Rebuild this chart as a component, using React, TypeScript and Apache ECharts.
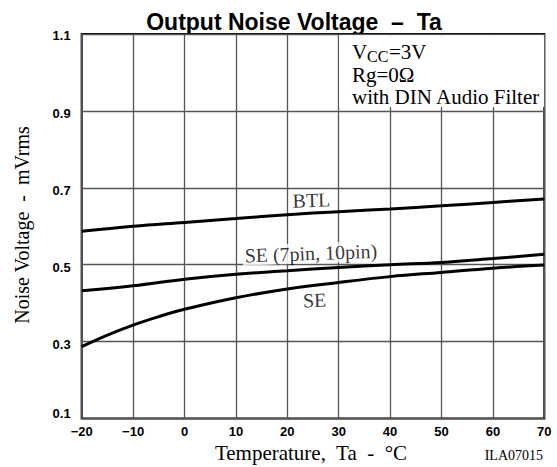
import React, { useEffect, useRef } from "react";
import * as echarts from "echarts";

const temps = [-20, -10, 0, 10, 20, 30, 40, 50, 60, 70];
const btlValues = [0.587, 0.6, 0.61, 0.62, 0.63, 0.638, 0.645, 0.653, 0.662, 0.671];
const se7Values = [0.432, 0.445, 0.462, 0.475, 0.484, 0.493, 0.5, 0.506, 0.516, 0.527];
const seTemps = [-20, -15, -10, -5, 0, 10, 20, 30, 40, 50, 60, 70];
const seValues = [0.287, 0.317, 0.343, 0.365, 0.384, 0.414, 0.437, 0.454, 0.469, 0.48, 0.491, 0.499];

const curveNames = ["BTL", "SE (7pin, 10pin)", "SE"];
const labelX = [24.7, 24.6, 25.3];
const labelY = [0.668, 0.53, 0.408];

const xTicks = [-20, -10, 0, 10, 20, 30, 40, 50, 60, 70];
const yTickLabels = ["0.1", "0.3", "0.5", "0.7", "0.9", "1.1"];

const SERIF = "'Liberation Serif', 'Times New Roman', serif";
const SANS = "'Liberation Sans', Arial, Helvetica, sans-serif";

export default function App() {
  const ref = useRef<HTMLDivElement>(null);
  useEffect(() => {
    if (!ref.current) return;
    const chart = echarts.init(ref.current, null, { renderer: "svg" });
    const pair = (xs: number[], ys: number[]) => xs.map((x, i) => [x, ys[i]]);
    const lineSeries = (name: string, data: number[][]) => ({
      name,
      type: "line",
      data,
      smooth: 0.4,
      symbol: "none",
      lineStyle: { color: "#000", width: 3 },
      z: 3,
    });
    const tickFont = { fontFamily: SANS, fontWeight: "bold", fontSize: 13, color: "#000" };
    chart.setOption({
      animation: false,
      grid: {
        left: 81.7,
        right: 12.7,
        top: 34,
        bottom: 48.5,
        show: true,
        borderColor: "#000",
        borderWidth: 2,
        backgroundColor: "transparent",
      },
      xAxis: {
        type: "value",
        min: xTicks[0],
        max: xTicks[xTicks.length - 1],
        interval: 10,
        axisLine: { show: false },
        axisTick: { show: false },
        splitLine: { show: true, lineStyle: { color: "#555", width: 1.3 } },
        axisLabel: {
          margin: 6,
          ...tickFont,
          formatter: (v: number) => (v < 0 ? "\u2212" + Math.abs(v) : String(v)),
        },
      },
      yAxis: {
        type: "value",
        min: 0.1,
        max: 1.1,
        interval: 0.1,
        axisLine: { show: false },
        axisTick: { show: false },
        splitLine: {
          show: true,
          lineStyle: { color: ["#555", "rgba(0,0,0,0)"], width: 1.3 },
        },
        axisLabel: {
          margin: 11,
          ...tickFont,
          formatter: (v: number) => {
            const s = v.toFixed(1);
            if (!yTickLabels.includes(s)) return "";
            if (s === yTickLabels[0]) return "{lo|" + s + "}";
            if (s === yTickLabels[yTickLabels.length - 1]) return "{hi|" + s + "}";
            return "{mid|" + s + "}";
          },
          rich: {
            lo: { ...tickFont, padding: [0, 0, 11, 0] },
            mid: { ...tickFont, padding: [5, 0, 0, 0] },
            hi: { ...tickFont, padding: [2, 0, 0, 0] },
          },
        },
      },
      series: [
        {
          ...lineSeries(curveNames[0], pair(temps, btlValues)),
          markArea: {
            silent: true,
            itemStyle: { color: "#fff", opacity: 1 },
            data: [[{ coord: [30.08, 0.91] }, { coord: [69.96, 1.097] }]],
          },
        },
        lineSeries(curveNames[1], pair(temps, se7Values)),
        lineSeries(curveNames[2], pair(seTemps, seValues)),
        {
          type: "scatter",
          symbolSize: 0,
          z: 4,
          data: curveNames.map((n, i) => ({ value: [labelX[i], labelY[i]], name: n })),
          label: {
            show: true,
            position: "inside",
            formatter: (p: any) => p.name,
            fontFamily: SERIF,
            fontSize: 20,
            color: "#000",
            backgroundColor: "#fff",
            padding: [0, 2],
            rotate: 2,
          },
        },
      ],
      graphic: [
        {
          type: "text",
          x: 294,
          y: 22,
          style: {
            text: "Output Noise Voltage  \u2013  Ta",
            font: `bold 23px ${SANS}`,
            fill: "#000",
            textAlign: "center",
            textVerticalAlign: "middle",
          },
        },
        {
          type: "text",
          x: 352,
          y: 52,
          z: 10,
          style: { text: "V", font: `21px ${SERIF}`, fill: "#000", textVerticalAlign: "middle" },
        },
        {
          type: "text",
          x: 367,
          y: 56,
          z: 10,
          style: { text: "CC", font: `16px ${SERIF}`, fill: "#000", textVerticalAlign: "middle" },
        },
        {
          type: "text",
          x: 389,
          y: 52,
          z: 10,
          style: { text: "=3V", font: `21px ${SERIF}`, fill: "#000", textVerticalAlign: "middle" },
        },
        {
          type: "text",
          x: 352,
          y: 75,
          z: 10,
          style: { text: "Rg=0\u03A9", font: `21px ${SERIF}`, fill: "#000", textVerticalAlign: "middle" },
        },
        {
          type: "text",
          x: 352,
          y: 97,
          z: 10,
          style: { text: "with DIN Audio Filter", font: `21px ${SERIF}`, fill: "#000", textVerticalAlign: "middle" },
        },
        {
          type: "text",
          x: 22,
          y: 225,
          rotation: Math.PI / 2,
          style: {
            text: "Noise Voltage  -  mVrms",
            font: `20px ${SERIF}`,
            fill: "#000",
            textAlign: "center",
            textVerticalAlign: "middle",
          },
        },
        {
          type: "text",
          x: 311,
          y: 453,
          style: {
            text: "Temperature,  Ta  -  \u00B0C",
            font: `21px ${SERIF}`,
            fill: "#000",
            textAlign: "center",
            textVerticalAlign: "middle",
          },
        },
        {
          type: "text",
          x: 543,
          y: 455,
          style: {
            text: "ILA07015",
            font: `14px ${SERIF}`,
            fill: "#000",
            textAlign: "right",
            textVerticalAlign: "middle",
          },
        },
      ],
    });
    return () => chart.dispose();
  }, []);
  return <div ref={ref} style={{ width: 557, height: 467, position: "absolute", left: 0, top: 0, background: "#fff" }} />;
}
